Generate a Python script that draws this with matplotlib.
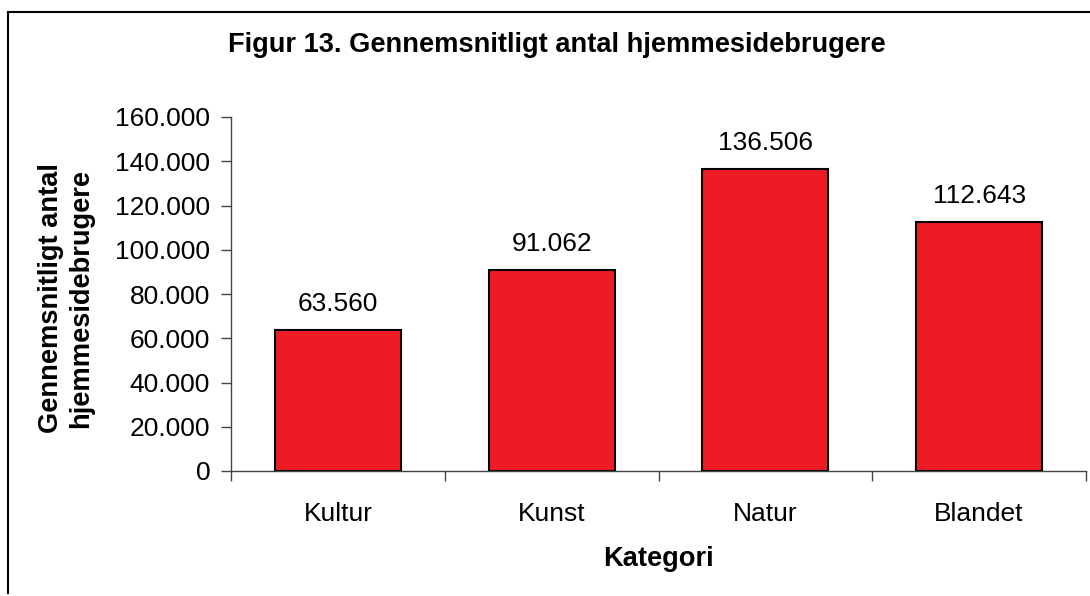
import matplotlib.pyplot as plt
from matplotlib.lines import Line2D
from matplotlib.ticker import FuncFormatter

plt.rcParams['font.family'] = ['Liberation Sans', 'DejaVu Sans']

categories = ["Kultur", "Kunst", "Natur", "Blandet"]
values = [63560, 91062, 136506, 112643]
yticks = [0, 20000, 40000, 60000, 80000, 100000, 120000, 140000, 160000]


def dk(v):
    # danish thousands separator
    return f"{int(round(v)):,}".replace(",", ".")


fig = plt.figure(figsize=(10.9, 5.96), dpi=100)
ax = fig.add_axes([231 / 1090, 1 - 471 / 596, (1086 - 231) / 1090, (471 - 117) / 596])

xs = range(len(categories))
ax.bar(xs, values, width=0.59, color="#ED1C24", edgecolor="black", linewidth=1.5, zorder=2)

for x, v in zip(xs, values):
    ax.annotate(dk(v), (x, v), xytext=(0, 10), textcoords="offset points",
                ha="center", va="bottom", fontsize=19)

ax.set_xlim(-0.5, len(categories) - 0.5)
ax.set_ylim(0, 160000)
ax.set_yticks(yticks)
ax.yaxis.set_major_formatter(FuncFormatter(lambda v, p: dk(v)))

# boundary ticks between categories, labels at centers
ax.set_xticks([i - 0.5 for i in range(len(categories) + 1)])
ax.set_xticklabels([])
ax.set_xticks(list(xs), minor=True)
ax.set_xticklabels(categories, minor=True)
ax.tick_params(axis="x", which="major", length=7, width=1, color="#444444")
ax.tick_params(axis="x", which="minor", length=0, pad=22, labelsize=19)
ax.tick_params(axis="y", length=7, width=1, color="#444444", labelsize=19, pad=8)

for s in ["top", "right"]:
    ax.spines[s].set_visible(False)
for s in ["left", "bottom"]:
    ax.spines[s].set_color("#444444")
    ax.spines[s].set_linewidth(1)

fig.text(557 / 1090, 1 - 45 / 596, "Figur 13. Gennemsnitligt antal hjemmesidebrugere",
         ha="center", va="center", fontsize=19.6, fontweight="bold")
fig.text(658 / 1090, 1 - 559 / 596, "Kategori", ha="center", va="center",
         fontsize=19.6, fontweight="bold")
fig.text(66 / 1090, 1 - 298 / 596, "Gennemsnitligt antal\nhjemmesidebrugere",
         ha="center", va="center", rotation=90, fontsize=19.6, fontweight="bold",
         linespacing=1.2)

# outer frame: only left and top edges are visible
fig.add_artist(Line2D([8 / 1090, 8 / 1090], [1 - 593 / 596, 1 - 12 / 596],
                      color="black", linewidth=1.5, transform=fig.transFigure))
fig.add_artist(Line2D([8 / 1090, 1.0], [1 - 12 / 596, 1 - 12 / 596],
                      color="black", linewidth=1.5, transform=fig.transFigure))

fig.savefig("out.png", dpi=100)
